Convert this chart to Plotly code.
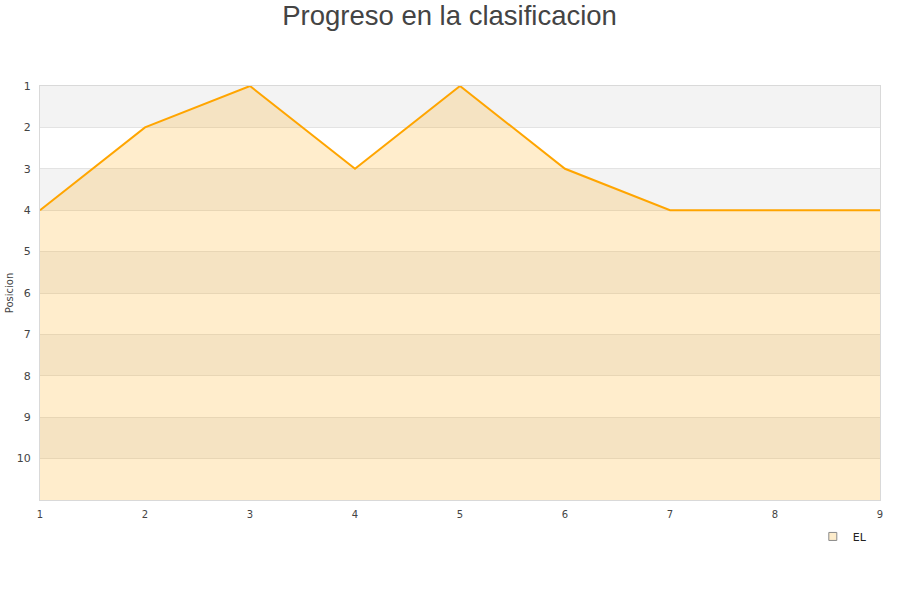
import plotly.graph_objects as go

jornadas = [1, 2, 3, 4, 5, 6, 7, 8, 9]
posicion = [4, 2, 1, 3, 1, 3, 4, 4, 4]
fondo = [11] * len(jornadas)
equipo = "EL"
y_ticks = [1, 2, 3, 4, 5, 6, 7, 8, 9, 10]

fig = go.Figure()

# baseline for fill
fig.add_trace(go.Scatter(x=jornadas, y=fondo, mode="lines", line=dict(width=0),
                         showlegend=False, hoverinfo="skip"))
fig.add_trace(go.Scatter(x=jornadas, y=posicion, mode="lines", fill="tonexty",
                         fillcolor="rgba(255,165,0,0.2)",
                         line=dict(color="#ffa500", width=2),
                         showlegend=False, name=equipo))
# legend entry
fig.add_trace(go.Scatter(x=[None], y=[None], mode="markers", name=equipo,
                         marker=dict(symbol="square", size=8, color="#fdeccb",
                                     line=dict(color="#8a8a8a", width=1))))

# alternating bands
for k in range(1, 11, 2):
    fig.add_shape(type="rect", xref="paper", x0=0, x1=1, yref="y", y0=k, y1=k + 1,
                  fillcolor="#f3f3f3", line=dict(width=0), layer="below")

fig.update_layout(
    width=900, height=600,
    margin=dict(l=40, r=20, t=86, b=100),
    paper_bgcolor="white", plot_bgcolor="white",
    title=dict(text="Progreso en la clasificacion", x=0.4995, xanchor="center",
               y=0.975, yanchor="middle",
               font=dict(family="Liberation Sans, Arial", size=27.5, color="#444444")),
    font=dict(family="DejaVu Sans", size=11, color="#444444"),
    showlegend=True,
    legend=dict(x=0.92, y=-0.053, xanchor="left", yanchor="top",
                bgcolor="rgba(0,0,0,0)", font=dict(size=11, color="#222222")),
    xaxis=dict(range=[1, 9], tickmode="array", tickvals=jornadas, showgrid=False,
               zeroline=False, showline=True, linecolor="#d9d9d9", mirror=True,
               ticks="outside", ticklen=5, tickcolor="rgba(0,0,0,0)",
               tickfont=dict(size=10), automargin=False),
    yaxis=dict(range=[11, 1], tickmode="array", tickvals=y_ticks, showgrid=True,
               gridcolor="#e3e3e3", zeroline=False, showline=True, linecolor="#d9d9d9",
               mirror=True, ticks="outside", ticklen=6, tickcolor="rgba(0,0,0,0)",
               automargin=False,
               title=dict(text="Posicion", font=dict(size=10), standoff=1)),
)

fig.write_html("out.html", config={"displayModeBar": False},
               post_script="document.body.style.margin='0';")
